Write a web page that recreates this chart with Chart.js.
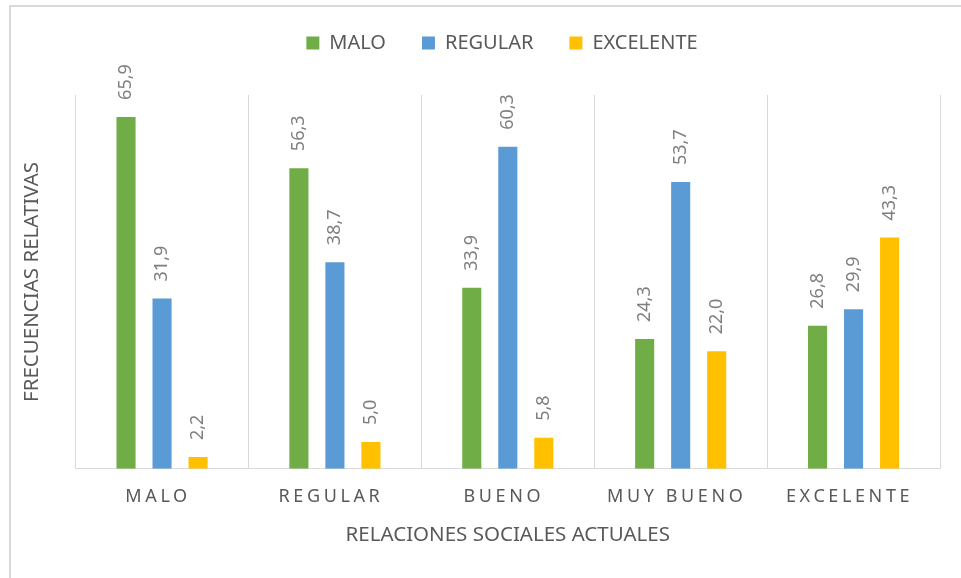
<!DOCTYPE html>
<html>
<head>
<meta charset="utf-8">
<script src="https://cdn.jsdelivr.net/npm/chart.js@4.4.1/dist/chart.umd.min.js"></script>
<style>
  html, body { margin: 0; padding: 0; background: #fff; }
  #wrap { position: relative; width: 961px; height: 578px; }
  #marco { position: absolute; left: 9px; top: 5px; right: -10px; bottom: -10px;
           border-left: 2px solid #d9d9d9; border-top: 2px solid #d9d9d9; }
  canvas { position: absolute; left: 0; top: 0; }
</style>
</head>
<body>
<div id="wrap">
  <div id="marco"></div>
  <canvas id="grafica" width="961" height="578"></canvas>
</div>
<script>
// Datos del gráfico
const categorias = ['MALO', 'REGULAR', 'BUENO', 'MUY BUENO', 'EXCELENTE'];
const malo = [65.9, 56.3, 33.9, 24.3, 26.8];
const regular = [31.9, 38.7, 60.3, 53.7, 29.9];
const excelente = [2.2, 5.0, 5.8, 22.0, 43.3];

const gris = '#595959';
const fuente = 'Noto Sans';

// etiquetas de valor giradas encima de cada barra
const etiquetasValor = {
    id: 'etiquetasValor',
    afterDatasetsDraw(chart) {
        const ctx = chart.ctx;
        ctx.save();
        ctx.font = '18px "' + fuente + '"';
        ctx.fillStyle = '#7f7f7f';
        ctx.textAlign = 'left';
        ctx.textBaseline = 'middle';
        chart.data.datasets.forEach((ds, i) => {
            chart.getDatasetMeta(i).data.forEach((bar, j) => {
                const txt = ds.data[j].toFixed(1).replace('.', ',');
                ctx.save();
                ctx.translate(bar.x, bar.y - 17);
                ctx.rotate(-Math.PI / 2);
                ctx.fillText(txt, 0, 0);
                ctx.restore();
            });
        });
        ctx.restore();
    }
};

// espacio entre letras en el eje X y hueco bajo la leyenda
const ajustes = {
    id: 'ajustes',
    afterInit(chart) {
        const leyenda = chart.legend;
        const fitOrig = leyenda.fit;
        leyenda.fit = function () {
            fitOrig.call(this);
            this.height += 32;
            // mover la leyenda un poco a la derecha
            this.lineWidths = this.lineWidths.map(w => w - 54);
        };
    },
    beforeDraw(chart) {
        const s = chart.scales.x;
        if (!s._parcheado) {
            const orig = s.drawLabels;
            s.drawLabels = function (area) {
                const c = this.ctx;
                const prev = c.letterSpacing;
                c.save();
                c.translate(-4, 0);
                c.letterSpacing = '3.6px';
                orig.call(this, area);
                c.letterSpacing = prev;
                c.restore();
            };
            s._parcheado = true;
        }
    }
};

const ctx = document.getElementById('grafica').getContext('2d');
new Chart(ctx, {
    type: 'bar',
    data: {
        labels: categorias,
        datasets: [
            { label: 'MALO', data: malo, backgroundColor: '#70ad47' },
            { label: 'REGULAR', data: regular, backgroundColor: '#5b9bd5' },
            { label: 'EXCELENTE', data: excelente, backgroundColor: '#ffc000' }
        ]
    },
    options: {
        responsive: false,
        animation: false,
        categoryPercentage: 0.625,
        barPercentage: 0.53,
        layout: { padding: { left: 10, right: 21, top: -3, bottom: 31 } },
        plugins: {
            legend: {
                position: 'top',
                labels: {
                    boxWidth: 13,
                    boxHeight: 13,
                    padding: 36,
                    color: gris,
                    font: { family: fuente, size: 20 }
                }
            },
            tooltip: { enabled: false }
        },
        scales: {
            x: {
                grid: { color: '#d9d9d9', drawTicks: false, offset: true },
                border: { color: '#d9d9d9' },
                ticks: { color: gris, padding: 17, font: { family: fuente, size: 18 } },
                title: {
                    display: true,
                    text: 'RELACIONES SOCIALES ACTUALES',
                    color: gris,
                    font: { family: fuente, size: 20.5 },
                    padding: { top: -2, bottom: 0 }
                }
            },
            y: {
                min: 0,
                max: 70,
                grid: { display: false },
                border: { display: false },
                ticks: { display: false },
                title: {
                    display: true,
                    text: 'FRECUENCIAS RELATIVAS',
                    color: gris,
                    font: { family: fuente, size: 20.5 },
                    padding: { top: 10, bottom: 23 }
                }
            }
        }
    },
    plugins: [etiquetasValor, ajustes]
});
</script>
</body>
</html>
